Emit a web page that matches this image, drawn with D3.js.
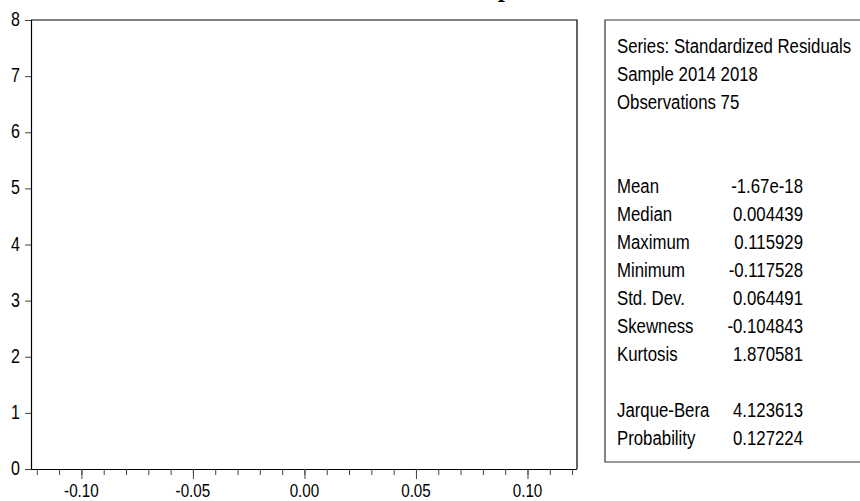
<!DOCTYPE html>
<html>
<head>
<meta charset="utf-8">
<script src="https://cdn.jsdelivr.net/npm/d3@7"></script>
<style>
  body { margin: 0; background: #fff; }
  text { font-family: "Liberation Sans", Arial, sans-serif; fill: #000; }
</style>
</head>
<body>
<div id="chart"></div>
<script>
// tick values
const xMajorTicks = [-0.10, -0.05, 0.00, 0.05, 0.10];
const yTicks = [0, 1, 2, 3, 4, 5, 6, 7, 8];

// summary box
const headerLines = ["Series: Standardized Residuals", "Sample 2014 2018", "Observations 75"];
const statLabels = ["Mean", "Median", "Maximum", "Minimum", "Std. Dev.", "Skewness", "Kurtosis"];
const statValues = ["-1.67e-18", "0.004439", "0.115929", "-0.117528", "0.064491", "-0.104843", "1.870581"];
const testLabels = ["Jarque-Bera", "Probability"];
const testValues = ["4.123613", "0.127224"];

const W = 860, H = 501;
const plot = {left: 31, top: 20, right: 577, bottom: 469};
const narrow = 0.8; // text looks like a narrow face

const svg = d3.select("#chart")
    .append("svg")
    .attr("width", W)
    .attr("height", H);

// scales
const x = d3.scaleLinear()
    .domain([-0.1226, 0.1222])
    .range([plot.left, plot.right]);

const y = d3.scaleLinear()
    .domain([0, 8])
    .range([plot.bottom, plot.top]);

function label(g, tx, ty, str, size, anchor) {
    return g.append("text")
        .attr("transform", `translate(${tx},${ty}) scale(${narrow},1)`)
        .attr("text-anchor", anchor || "start")
        .style("font-size", size + "px")
        .text(str);
}

// title (only the descender shows inside the frame)
svg.append("text")
    .attr("x", 505)
    .attr("y", -3)
    .attr("text-anchor", "middle")
    .style("font-family", "'Liberation Serif', 'Times New Roman', serif")
    .style("font-weight", "bold")
    .style("font-size", "26px")
    .text("p");

// frame top + right
svg.append("path")
    .attr("fill", "none")
    .attr("stroke", "#000")
    .attr("stroke-width", 1.2)
    .attr("d", `M${plot.left},${plot.top}H${plot.right}V${plot.bottom}`);

// y axis
const yAxis = svg.append("g")
    .attr("transform", `translate(${plot.left},0)`)
    .call(d3.axisLeft(y).tickValues(yTicks).tickSize(6).tickFormat(""));
yAxis.select(".domain").attr("d", `M0.5,${plot.top}V${plot.bottom}`).attr("stroke-width", 1.2);
yAxis.selectAll(".tick line").attr("stroke", "#444");
yTicks.forEach(v => label(svg, 20, y(v) + 6, d3.format("d")(v), 20, "end"));

// x axis, minor ticks every 0.01 and major every 0.05
const minor = d3.range(-12, 13).map(i => i / 100);
const xMinor = svg.append("g")
    .attr("transform", `translate(0,${plot.bottom})`)
    .call(d3.axisBottom(x).tickValues(minor).tickSize(6).tickFormat(""));
xMinor.select(".domain").attr("d", `M${plot.left},0.5H${plot.right}`).attr("stroke-width", 1.2);
xMinor.selectAll(".tick line").attr("stroke", "#444");

const xMajor = svg.append("g")
    .attr("transform", `translate(0,${plot.bottom})`)
    .call(d3.axisBottom(x).tickValues(xMajorTicks).tickSize(10).tickFormat(""));
xMajor.select(".domain").remove();
xMajor.selectAll(".tick line").attr("stroke", "#444");
xMajorTicks.forEach(v => label(svg, x(v), 497, d3.format(".2f")(v).replace("−", "-"), 19, "middle"));

// summary box
const box = {left: 605, top: 20, bottom: 462};
svg.append("path")
    .attr("fill", "none")
    .attr("stroke", "#333")
    .attr("stroke-width", 1.2)
    .attr("d", `M${W + 5},${box.top}H${box.left}V${box.bottom}H${W + 5}`);

const lineH = 28, firstBase = 53, textX = 617, valueX = 803;
const stats = svg.append("g");
headerLines.forEach((s, i) => label(stats, textX, firstBase + i * lineH, s, 21));
statLabels.forEach((s, i) => {
    const by = firstBase + (i + 5) * lineH;
    label(stats, textX, by, s, 21);
    label(stats, valueX, by, statValues[i], 21, "end");
});
testLabels.forEach((s, i) => {
    const by = firstBase + (i + 13) * lineH;
    label(stats, textX, by, s, 21);
    label(stats, valueX, by, testValues[i], 21, "end");
});
</script>
</body>
</html>
